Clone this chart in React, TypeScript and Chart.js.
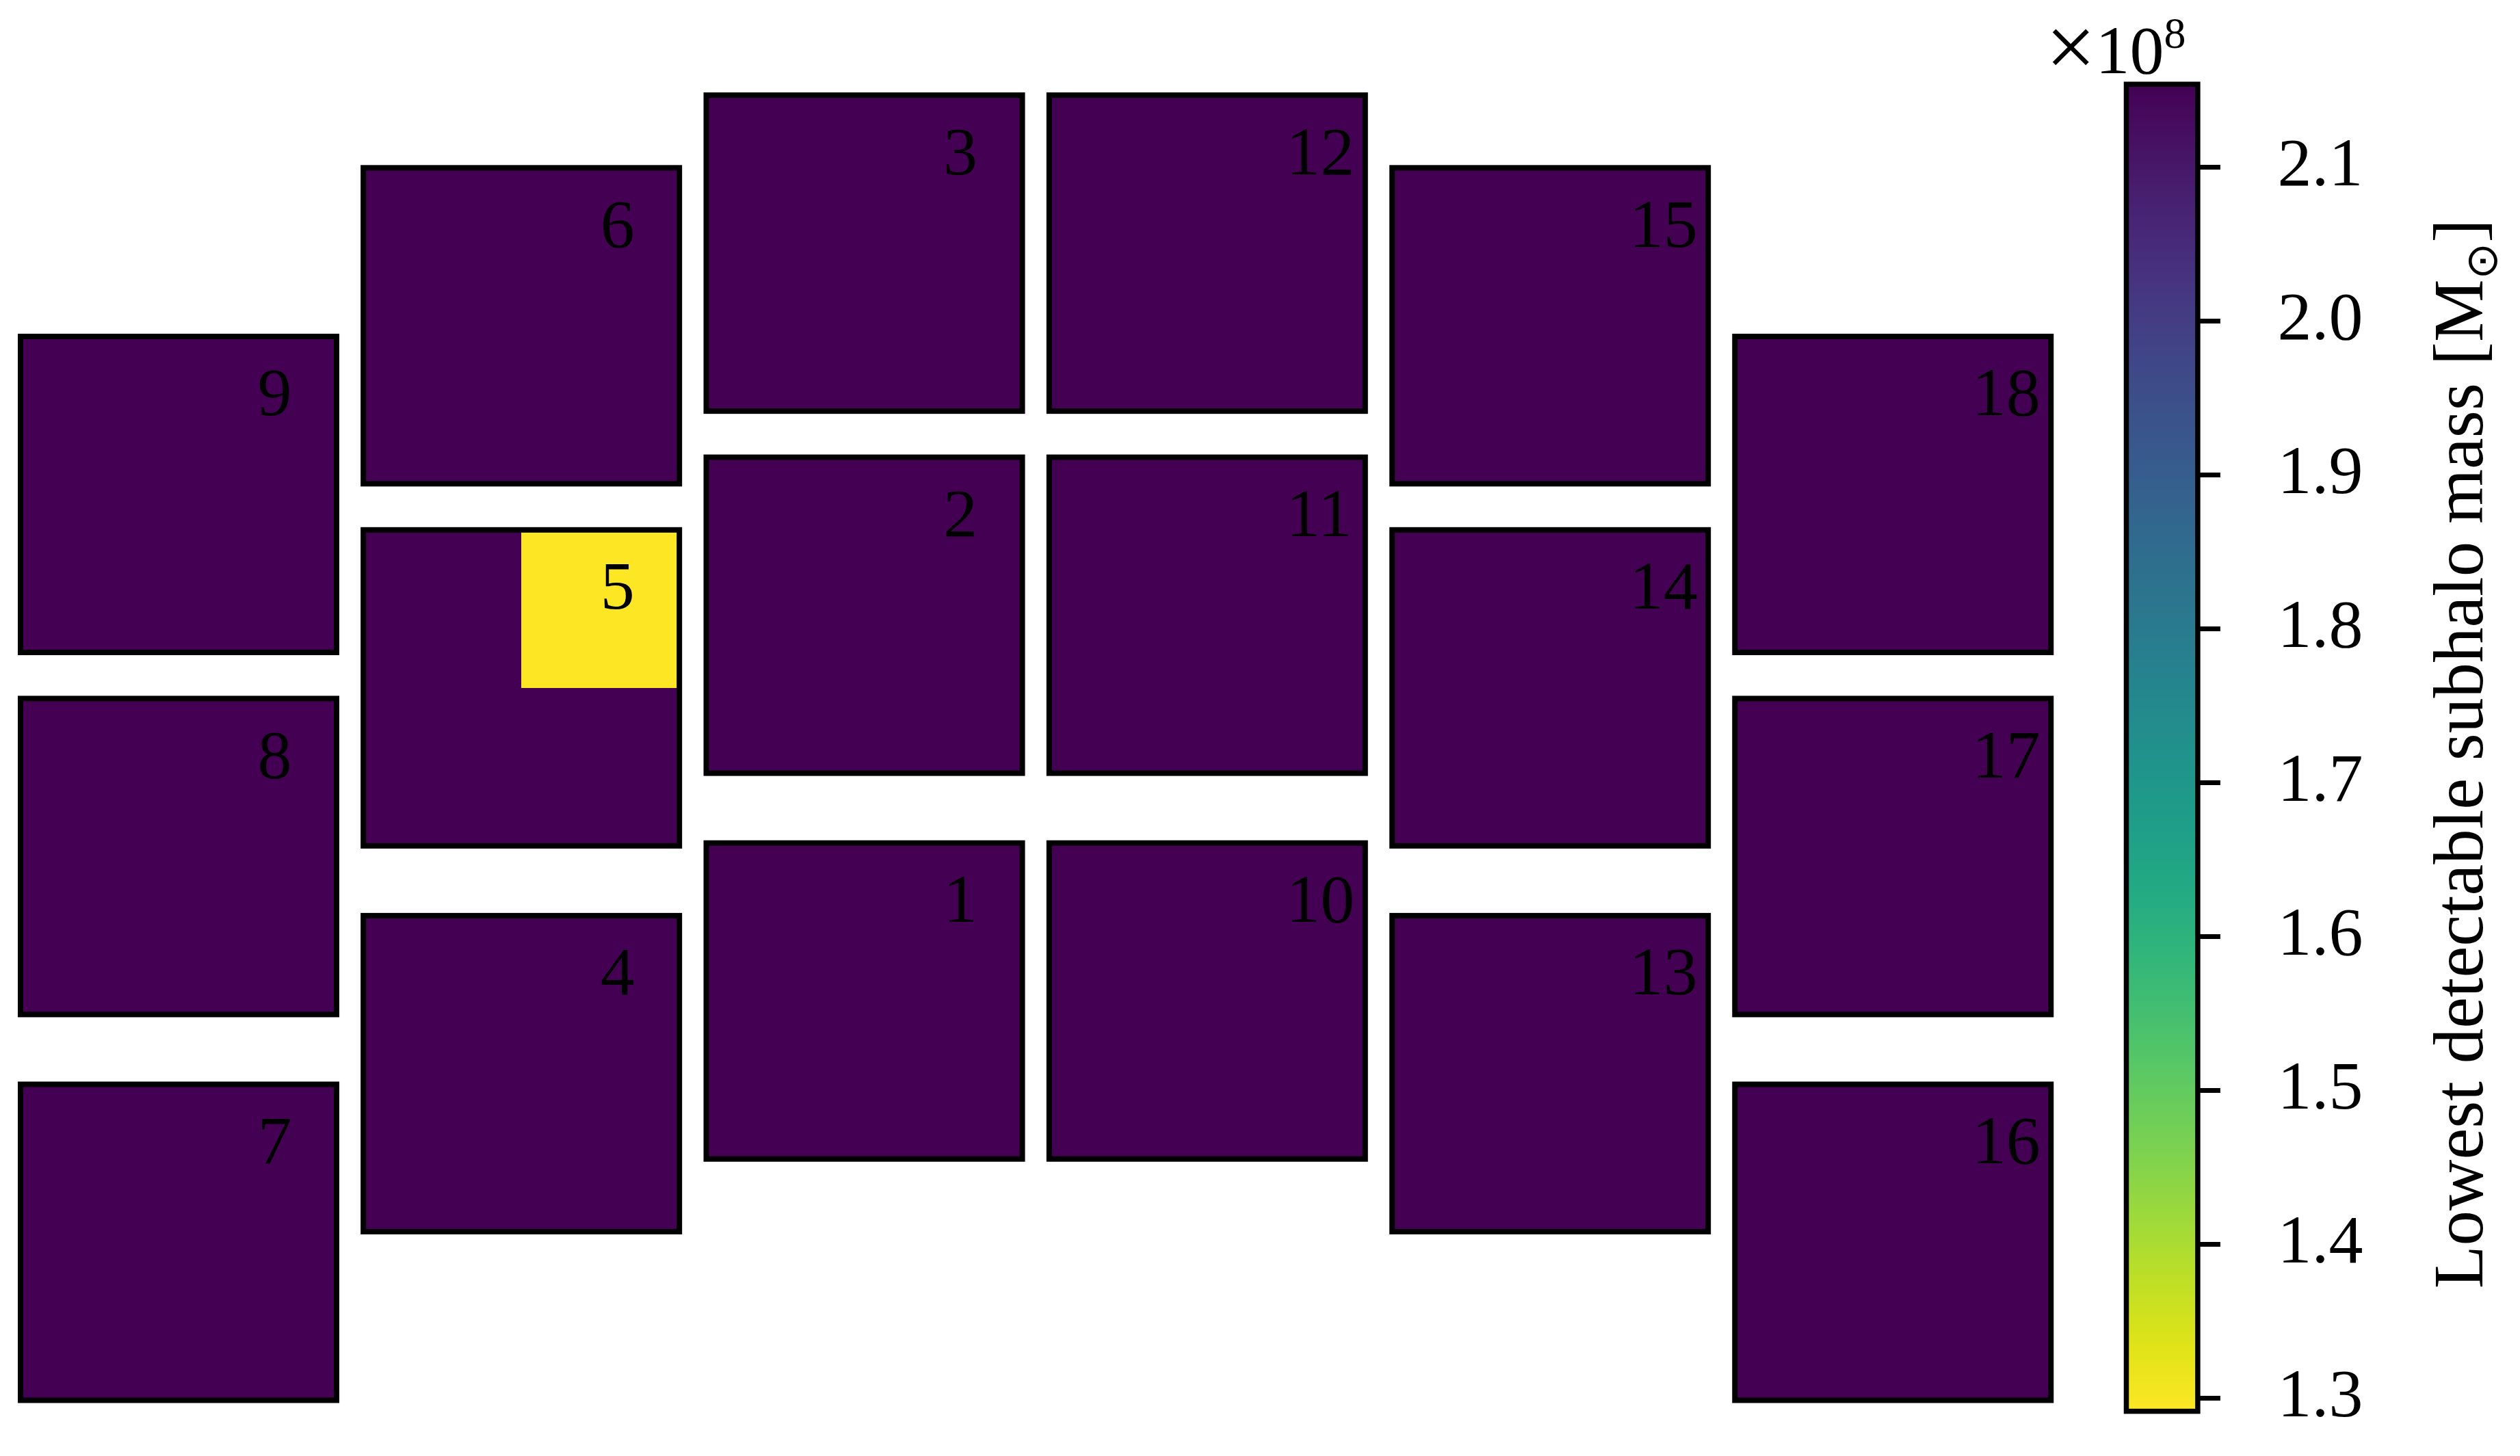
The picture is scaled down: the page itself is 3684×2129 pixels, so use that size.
import React, { useEffect, useRef } from "react";
import { Chart, registerables } from "chart.js";

Chart.register(...registerables);

// ---------------- data ----------------
// Detector (SCA) numbers and centre positions in focal-plane units (detector side = 1)
const detectorNumbers = [1, 2, 3, 4, 5, 6, 7, 8, 9, 10, 11, 12, 13, 14, 15, 16, 17, 18];
const detectorX = [
  -0.5425, -0.5425, -0.5425, -1.6277, -1.6277, -1.6277, -2.7124, -2.7124, -2.7124,
  0.5425, 0.5425, 0.5425, 1.6277, 1.6277, 1.6277, 2.7124, 2.7124, 2.7124,
];
const detectorY = [
  -0.8015, 0.4195, 1.5655, -1.0314, 0.1896, 1.3356, -1.5652, -0.3442, 0.8018,
  -0.8015, 0.4195, 1.5655, -1.0314, 0.1896, 1.3356, -1.5652, -0.3442, 0.8018,
];
const detectorSize = 1.0;

// Lowest detectable subhalo mass [M_sun] for each detector quadrant
const massLowerLeft = [
  2.154e8, 2.154e8, 2.154e8, 2.154e8, 2.154e8, 2.154e8, 2.154e8, 2.154e8, 2.154e8,
  2.154e8, 2.154e8, 2.154e8, 2.154e8, 2.154e8, 2.154e8, 2.154e8, 2.154e8, 2.154e8,
];
const massLowerRight = [
  2.154e8, 2.154e8, 2.154e8, 2.154e8, 2.154e8, 2.154e8, 2.154e8, 2.154e8, 2.154e8,
  2.154e8, 2.154e8, 2.154e8, 2.154e8, 2.154e8, 2.154e8, 2.154e8, 2.154e8, 2.154e8,
];
const massUpperLeft = [
  2.154e8, 2.154e8, 2.154e8, 2.154e8, 2.154e8, 2.154e8, 2.154e8, 2.154e8, 2.154e8,
  2.154e8, 2.154e8, 2.154e8, 2.154e8, 2.154e8, 2.154e8, 2.154e8, 2.154e8, 2.154e8,
];
const massUpperRight = [
  2.154e8, 2.154e8, 2.154e8, 2.154e8, 1.2916e8, 2.154e8, 2.154e8, 2.154e8, 2.154e8,
  2.154e8, 2.154e8, 2.154e8, 2.154e8, 2.154e8, 2.154e8, 2.154e8, 2.154e8, 2.154e8,
];

const colorbarTicks = [1.3e8, 1.4e8, 1.5e8, 1.6e8, 1.7e8, 1.8e8, 1.9e8, 2.0e8, 2.1e8];
const colorbarLabelMain = "Lowest detectable subhalo mass [M";
const colorbarLabelSub = "\u2299";
const colorbarLabelEnd = "]";
const offsetTimes = "\u00d7";
const offsetBase = "10";
const offsetExponent = "8";

// ---------------- styles ----------------
const VIRIDIS = [
  "#440154", "#471365", "#482475", "#463480", "#414487", "#3b528b", "#355f8d",
  "#2f6c8e", "#2a788e", "#25848e", "#21918c", "#1e9c89", "#22a884", "#2fb47c",
  "#44bf70", "#5ec962", "#7ad151", "#9bd93c", "#bddf26", "#dfe318", "#fde725",
];
const SERIF = "'Liberation Serif', 'DejaVu Serif', serif";
const W = 3684;
const H = 2129;

const allMasses = [...massLowerLeft, ...massLowerRight, ...massUpperLeft, ...massUpperRight];
const vMin = Math.min(...allMasses);
const vMax = Math.max(...allMasses);

function hexToRgb(h: string) {
  return [parseInt(h.slice(1, 3), 16), parseInt(h.slice(3, 5), 16), parseInt(h.slice(5, 7), 16)];
}
function viridis(t: number) {
  const n = VIRIDIS.length - 1;
  const tt = Math.min(1, Math.max(0, t)) * n;
  const i = Math.min(n - 1, Math.floor(tt));
  const f = tt - i;
  const a = hexToRgb(VIRIDIS[i]);
  const b = hexToRgb(VIRIDIS[i + 1]);
  return `rgb(${Math.round(a[0] + (b[0] - a[0]) * f)},${Math.round(a[1] + (b[1] - a[1]) * f)},${Math.round(a[2] + (b[2] - a[2]) * f)})`;
}
// reversed viridis: low mass -> yellow, high mass -> purple
function massColor(v: number) {
  return viridis(1 - (v - vMin) / (vMax - vMin));
}

const detectorPlugin = {
  id: "detectors",
  afterDatasetsDraw(chart: any) {
    const ctx = chart.ctx as CanvasRenderingContext2D;
    const xs = chart.scales.x;
    const ys = chart.scales.y;
    const cells = chart.data.datasets[0].data as any[];
    ctx.save();
    for (const c of cells) {
      const x0 = Math.round(xs.getPixelForValue(c.x0));
      const x1 = Math.round(xs.getPixelForValue(c.x1));
      const y0 = Math.round(ys.getPixelForValue(c.y1));
      const y1 = Math.round(ys.getPixelForValue(c.y0));
      ctx.fillStyle = massColor(c.v);
      ctx.fillRect(x0, y0, x1 - x0, y1 - y0);
    }
    ctx.strokeStyle = "#000";
    ctx.lineWidth = 8;
    ctx.lineJoin = "miter";
    for (let i = 0; i < detectorNumbers.length; i++) {
      const h = detectorSize / 2;
      const x0 = xs.getPixelForValue(detectorX[i] - h);
      const x1 = xs.getPixelForValue(detectorX[i] + h);
      const y0 = ys.getPixelForValue(detectorY[i] + h);
      const y1 = ys.getPixelForValue(detectorY[i] - h);
      ctx.strokeRect(x0, y0, x1 - x0, y1 - y0);
    }
    ctx.fillStyle = "#000";
    ctx.font = `100px ${SERIF}`;
    ctx.textAlign = "left";
    ctx.textBaseline = "alphabetic";
    for (let i = 0; i < detectorNumbers.length; i++) {
      const tx = xs.getPixelForValue(detectorX[i] + detectorSize / 4);
      const ty = ys.getPixelForValue(detectorY[i] + detectorSize / 4);
      ctx.fillText(String(detectorNumbers[i]), tx, ty);
    }
    ctx.restore();
  },
};

const colorbarPlugin = {
  id: "colorbar",
  afterDraw(chart: any) {
    const ctx = chart.ctx as CanvasRenderingContext2D;
    const a = chart.chartArea;
    const ys = chart.scales.y;
    const yBottom = ys.getPixelForValue(vMin);
    const yTop = ys.getPixelForValue(vMax);
    ctx.save();
    const g = ctx.createLinearGradient(0, yBottom, 0, yTop);
    const n = VIRIDIS.length - 1;
    VIRIDIS.forEach((_, i) => g.addColorStop(i / n, VIRIDIS[n - i]));
    ctx.fillStyle = g;
    ctx.fillRect(a.left, yTop, a.right - a.left, yBottom - yTop);
    ctx.strokeStyle = "#000";
    ctx.lineWidth = 7.5;
    ctx.strokeRect(a.left, yTop, a.right - a.left, yBottom - yTop);

    // offset text  x10^8
    ctx.fillStyle = "#000";
    ctx.textAlign = "left";
    ctx.textBaseline = "alphabetic";
    ctx.font = `130px ${SERIF}`;
    ctx.fillText(offsetTimes, a.left - 118, a.top - 11);
    ctx.font = `100px ${SERIF}`;
    ctx.fillText(offsetBase, a.left - 45, a.top - 16);
    ctx.font = `64px ${SERIF}`;
    ctx.fillText(offsetExponent, a.left + 55, a.top - 53);

    // colorbar label, rotated, reading bottom to top
    ctx.translate(a.right + 416, (a.top + a.bottom) / 2 + 9);
    ctx.rotate(-Math.PI / 2);
    const mainFont = `103px ${SERIF}`;
    const subFont = `64px 'DejaVu Sans', sans-serif`;
    ctx.font = mainFont;
    const w1 = ctx.measureText(colorbarLabelMain).width;
    const w3 = ctx.measureText(colorbarLabelEnd).width;
    ctx.font = subFont;
    const w2 = ctx.measureText(colorbarLabelSub).width;
    let x = -(w1 + w2 + w3) / 2;
    ctx.font = mainFont;
    ctx.fillText(colorbarLabelMain, x, 0);
    x += w1;
    ctx.font = subFont;
    ctx.fillText(colorbarLabelSub, x, 21);
    x += w2;
    ctx.font = mainFont;
    ctx.fillText(colorbarLabelEnd, x, 0);
    ctx.restore();
  },
};

export default function App() {
  const mainRef = useRef<HTMLCanvasElement>(null);
  const cbRef = useRef<HTMLCanvasElement>(null);

  useEffect(() => {
    const cells: any[] = [];
    for (let i = 0; i < detectorNumbers.length; i++) {
      const cx = detectorX[i];
      const cy = detectorY[i];
      const h = detectorSize / 2;
      const quads = [
        { x0: cx - h, x1: cx, y0: cy - h, y1: cy, v: massLowerLeft[i] },
        { x0: cx, x1: cx + h, y0: cy - h, y1: cy, v: massLowerRight[i] },
        { x0: cx - h, x1: cx, y0: cy, y1: cy + h, v: massUpperLeft[i] },
        { x0: cx, x1: cx + h, y0: cy, y1: cy + h, v: massUpperRight[i] },
      ];
      for (const q of quads) cells.push({ ...q, x: (q.x0 + q.x1) / 2, y: (q.y0 + q.y1) / 2 });
    }

    const main = new Chart(mainRef.current as HTMLCanvasElement, {
      type: "scatter",
      data: { datasets: [{ data: cells, pointRadius: 0, pointHoverRadius: 0 } as any] },
      options: {
        animation: false,
        responsive: false,
        devicePixelRatio: 1,
        events: [],
        layout: { padding: { left: 12.65, right: 668.35, top: 123.2, bottom: 65.4 } },
        scales: {
          x: { type: "linear", min: -3.25, max: 3.25, display: false },
          y: { type: "linear", min: -2.1, max: 2.1, display: false },
        },
        plugins: { legend: { display: false }, tooltip: { enabled: false } },
      } as any,
      plugins: [detectorPlugin],
    });

    const axisW = 420;
    const cb = new Chart(cbRef.current as HTMLCanvasElement, {
      type: "scatter",
      data: { datasets: [] },
      options: {
        animation: false,
        responsive: false,
        devicePixelRatio: 1,
        events: [],
        layout: { padding: { left: 3108.5, right: W - 3212.9 - axisW, top: 123.2, bottom: 65.4 } },
        scales: {
          x: { type: "linear", min: 0, max: 1, display: false },
          y: {
            type: "linear",
            position: "right",
            min: vMin,
            max: vMax,
            afterFit: (s: any) => {
              s.width = axisW;
              s.paddingTop = 0;
              s.paddingBottom = 0;
            },
            afterBuildTicks: (s: any) => {
              s.ticks = colorbarTicks.map((v) => ({ value: v }));
            },
            grid: {
              drawOnChartArea: false,
              drawTicks: true,
              tickLength: 33,
              tickWidth: 7,
              tickColor: "#000",
              color: "#000",
            },
            border: { display: false },
            ticks: {
              color: "#000",
              padding: 83.5,
              font: { family: SERIF, size: 100 },
              callback: (v: any) => (Number(v) / 1e8).toFixed(1),
            },
          },
        },
        plugins: { legend: { display: false }, tooltip: { enabled: false } },
      } as any,
      plugins: [colorbarPlugin],
    });

    return () => {
      main.destroy();
      cb.destroy();
    };
  }, []);

  return (
    <div style={{ position: "fixed", left: 0, top: 0, width: W, height: H, background: "#fff" }}>
      <canvas ref={mainRef} width={W} height={H} style={{ position: "absolute", left: 0, top: 0 }} />
      <canvas ref={cbRef} width={W} height={H} style={{ position: "absolute", left: 0, top: 0 }} />
    </div>
  );
}
